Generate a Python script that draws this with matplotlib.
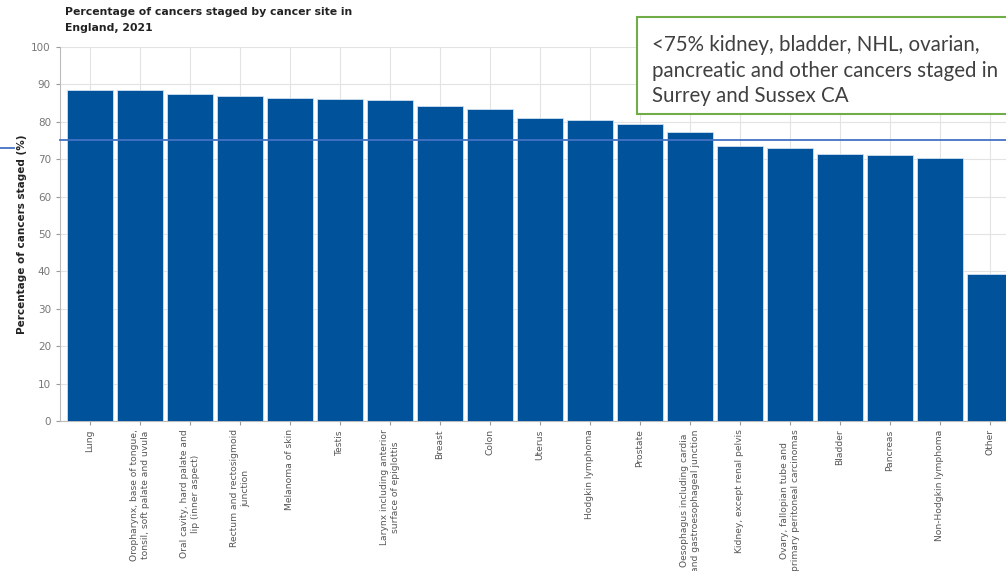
import matplotlib.pyplot as plt
from matplotlib.patches import Rectangle

# Données
sites = [
    "Lung",
    "Oropharynx, base of tongue,\ntonsil, soft palate and uvula",
    "Oral cavity, hard palate and\nlip (inner aspect)",
    "Rectum and rectosigmoid\njunction",
    "Melanoma of skin",
    "Testis",
    "Larynx including anterior\nsurface of epiglottis",
    "Breast",
    "Colon",
    "Uterus",
    "Hodgkin lymphoma",
    "Prostate",
    "Oesophagus including cardia\nand gastroesophageal junction",
    "Kidney, except renal pelvis",
    "Ovary, fallopian tube and\nprimary peritoneal carcinomas",
    "Bladder",
    "Pancreas",
    "Non-Hodgkin lymphoma",
    "Other",
]
pourcentages = [88.5, 88.5, 87.5, 87.0, 86.4, 86.2, 85.9, 84.2, 83.4, 81.1,
                80.6, 79.5, 77.3, 73.4, 73.1, 71.5, 71.0, 70.4, 39.3]
seuil = 75
yticks = list(range(0, 101, 10))

fig = plt.figure(figsize=(10.06, 5.71), dpi=100)
ax = fig.add_axes([0.0596, 0.2627, 0.9404, 0.655])

x = list(range(len(sites)))
ax.bar(x, pourcentages, width=0.92, color="#00529B", edgecolor="#cfe0f0",
       linewidth=0.6, zorder=3)

ax.set_xlim(-0.6, 18.32)
ax.set_ylim(0, 100)
ax.set_yticks(yticks)
ax.set_xticks(x)
ax.set_xticklabels(sites, rotation=90, fontsize=6.6, color="#555555",
                   ha="center", va="top", multialignment="center")
ax.tick_params(axis="y", labelsize=7.5, labelcolor="#777777", color="#999999",
               length=3, width=0.8)
ax.tick_params(axis="x", color="#999999", length=3, width=0.8, pad=3)

ax.grid(True, color="#e3e3e3", linewidth=0.8, zorder=0)
for s in ["top", "right"]:
    ax.spines[s].set_visible(False)
for s in ["left", "bottom"]:
    ax.spines[s].set_color("#bbbbbb")
    ax.spines[s].set_linewidth(0.8)

ax.set_ylabel("Percentage of cancers staged (%)", fontsize=7.5,
              fontweight="bold", color="#222222", labelpad=3)

# Ligne de seuil 75 %
ax.axhline(seuil, color="#4472C4", linewidth=1.3, zorder=4, clip_on=False)
trans = ax.get_yaxis_transform()
ax.plot([-0.0635, -0.049], [seuil - 2, seuil - 2], color="#4472C4",
        linewidth=1.3, transform=trans, clip_on=False)

fig.text(0.0646, 0.987, "Percentage of cancers staged by cancer site in\nEngland, 2021",
         fontsize=7.8, fontweight="bold", color="#222222",
         va="top", ha="left", linespacing=1.75)

# Encadré de commentaire
fig.patches.append(Rectangle((0.633, 0.800), 0.37, 0.170, transform=fig.transFigure,
                             facecolor="white", edgecolor="#70AD47",
                             linewidth=1.5, zorder=5))
fig.text(0.648, 0.938,
         "<75% kidney, bladder, NHL, ovarian,\npancreatic and other cancers staged in\nSurrey and Sussex CA",
         fontsize=14.8, family="Lato", color="#404040", va="top", ha="left",
         linespacing=1.32, zorder=6)

fig.savefig("out.png", dpi=100)
